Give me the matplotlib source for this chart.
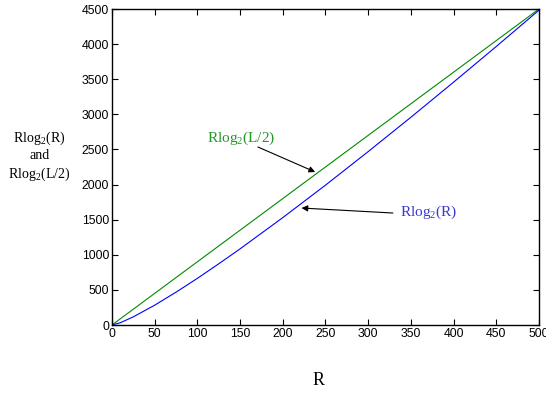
import numpy as np
import matplotlib.pyplot as plt

# values
R = [0, 10, 25, 50, 75, 100, 125, 150, 200, 250, 300, 350, 400, 450, 500]
r_log_r = [0, 33, 116, 282, 467, 664, 871, 1084, 1529, 1991, 2469, 2958, 3458, 3966, 4483]
r_log_l = [0, 90, 225, 450, 675, 900, 1125, 1350, 1800, 2250, 2700, 3150, 3600, 4050, 4500]

x_ticks = [0, 50, 100, 150, 200, 250, 300, 350, 400, 450, 500]
y_ticks = [0, 500, 1000, 1500, 2000, 2500, 3000, 3500, 4000, 4500]

plt.rcParams['mathtext.fontset'] = 'custom'
plt.rcParams['mathtext.rm'] = 'Liberation Serif'

fig = plt.figure(figsize=(5.46, 3.93), dpi=100)
ax = fig.add_axes([0.205, 0.173, 0.782, 0.804])

ax.plot(R, r_log_l, color='#008a00', lw=0.8)
ax.plot(R, r_log_r, color='#0000ff', lw=0.8)

ax.set_xlim(0, 500)
ax.set_ylim(0, 4500)
ax.set_xticks(x_ticks)
ax.set_yticks(y_ticks)
ax.tick_params(direction='in', top=True, right=True, length=4, width=0.8,
               labelsize=8.8, pad=2)
for lab in ax.get_xticklabels() + ax.get_yticklabels():
    lab.set_fontfamily('Liberation Sans')
for s in ax.spines.values():
    s.set_linewidth(1.0)

# labels on the curves
ax.text(111, 2660, r'Rlog$_\mathrm{2}$(L/2)', color='#229922', fontsize=11,
        family='Liberation Serif', va='center')
ax.text(337, 1609, r'Rlog$_\mathrm{2}$(R)', color='#3a3ad0', fontsize=11,
        family='Liberation Serif', va='center')

arrow = dict(arrowstyle='-|>', color='black', lw=0.8, mutation_scale=9,
             shrinkA=0, shrinkB=0)
ax.annotate('', xy=(238, 2179), xytext=(171, 2535), arrowprops=arrow)
ax.annotate('', xy=(222, 1666), xytext=(329, 1595), arrowprops=arrow)

fig.text(0.072, 0.603, 'Rlog$_\\mathrm{2}$(R)\nand\nRlog$_\\mathrm{2}$(L/2)',
         ha='center', va='center', fontsize=10, family='Liberation Serif',
         linespacing=1.25)
fig.text(0.583, 0.033, 'R', ha='center', va='center', fontsize=13,
         family='Liberation Serif')

fig.savefig('out.png', dpi=100)
